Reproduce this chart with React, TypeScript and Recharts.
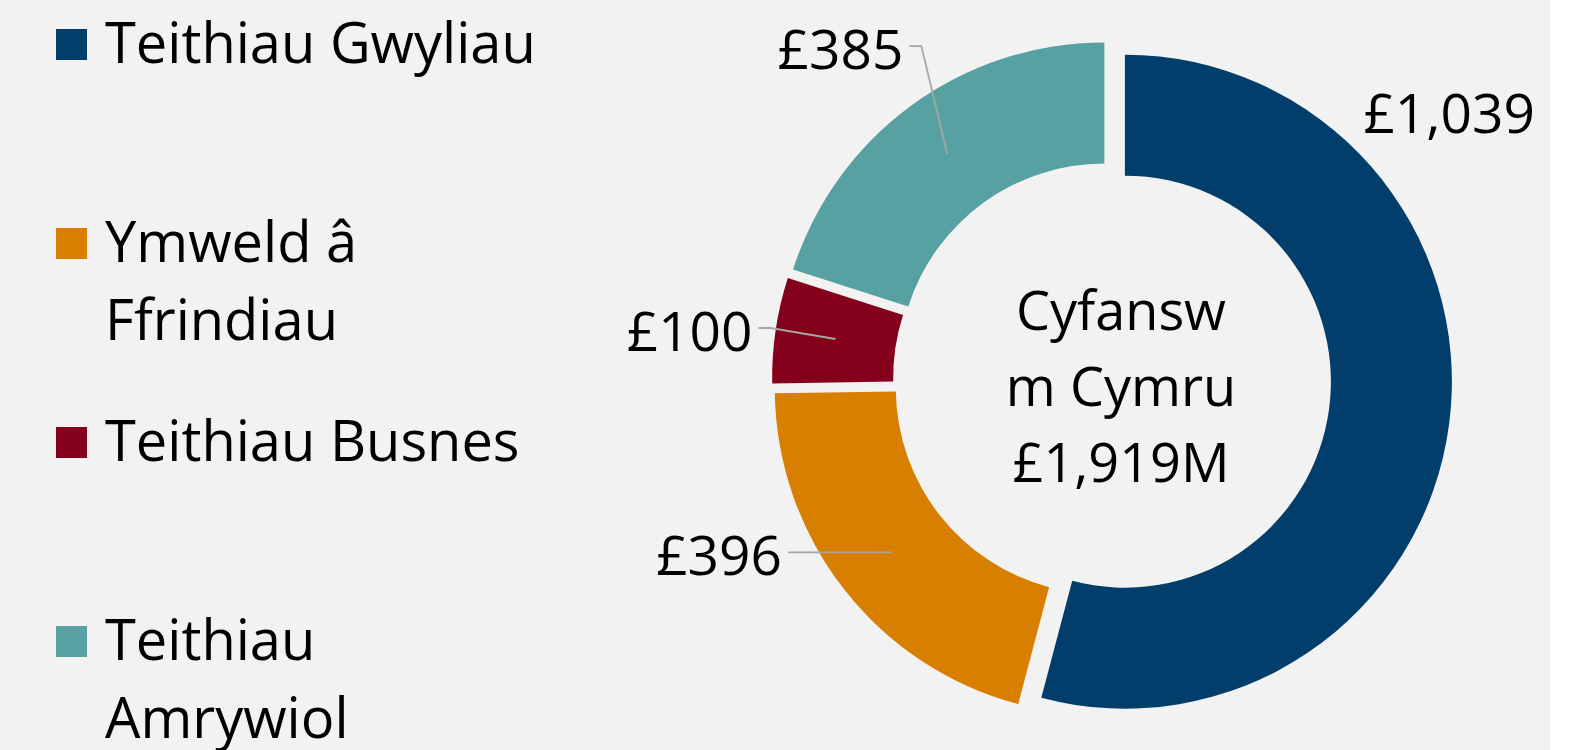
import React from 'react';
import { PieChart, Pie, Cell, Legend } from 'recharts';

// ---- data ----
const CATEGORIES = ['Teithiau Gwyliau', 'Ymweld â Ffrindiau', 'Teithiau Busnes', 'Teithiau Amrywiol'];
const VALUES = [1039, 396, 100, 385];
const COLORS = ['#023E6B', '#D87E00', '#84001B', '#57A1A3'];
const LEGEND_LINES = [['Teithiau Gwyliau'], ['Ymweld â', 'Ffrindiau'], ['Teithiau Busnes'], ['Teithiau', 'Amrywiol']];
const CENTER_LINES = ['Cyfansw', 'm Cymru', '£1,919M'];

const data = CATEGORIES.map((name, i) => ({ name, value: VALUES[i] }));

// ---- layout / style ----
const CX = 1112;
const CY = 380;
const INNER = 206;
const OUTER = 327;
const EXPLODE = 13;
const RADIAN = Math.PI / 180;
const LABEL_FONT = "'Open Sans', sans-serif";

const total = VALUES.reduce((a, b) => a + b, 0);
const MID_ANGLES = (() => {
  let cum = 0;
  return VALUES.map((v) => {
    const m = 90 - (360 * (cum + v / 2)) / total;
    cum += v;
    return m;
  });
})();

// elbow offset of the label relative to the mid-ring point of each slice
const LABEL_LAYOUT = [
  { dx: 60, dy: -283, line: false },
  { dx: -92, dy: 0, line: true },
  { dx: -65, dy: -11, line: true },
  { dx: -26, dy: -108, line: true },
];

const fmt = (v: number) => '£' + v.toLocaleString('en-GB');

const makeLabel = (slice: number) => (props: any) => {
  if (props.index !== slice) return null;
  const { cx, cy, midAngle, innerRadius, outerRadius, value } = props;
  const midR = (innerRadius + outerRadius) / 2;
  const px = cx + midR * Math.cos(-midAngle * RADIAN);
  const py = cy + midR * Math.sin(-midAngle * RADIAN);
  const lay = LABEL_LAYOUT[slice];
  const ex = px + lay.dx;
  const ey = py + lay.dy;
  return (
    <g>
      {lay.line ? (
        <>
          <polyline
            points={`${px},${py} ${ex},${ey} ${ex - 12},${ey}`}
            fill="none"
            stroke="#A6A6A6"
            strokeWidth={1.8}
          />
          <text x={ex - 18} y={ey + 23} textAnchor="end" fontFamily={LABEL_FONT} fontSize={55} fill="#000">
            {fmt(value)}
          </text>
        </>
      ) : (
        <text x={ex} y={ey} textAnchor="middle" fontFamily={LABEL_FONT} fontSize={55} fill="#000">
          {fmt(value)}
        </text>
      )}
      {slice === 0 &&
        CENTER_LINES.map((t, k) => (
          <text key={k} x={CX + 9} y={330 + k * 76} textAnchor="middle" fontFamily={LABEL_FONT} fontSize={54} fill="#000">
            {t}
          </text>
        ))}
    </g>
  );
};

const LegendBox = () => (
  <div style={{ position: 'relative', width: 700, height: 750, fontFamily: "'Open Sans', sans-serif", fontSize: 56, color: '#000' }}>
    {LEGEND_LINES.map((lines, i) => (
      <div key={i} style={{ position: 'absolute', left: 0, top: 2 + i * 199, width: 700 }}>
        <div style={{ position: 'absolute', left: 55.5, top: 26.5, width: 31, height: 31, background: COLORS[i] }} />
        <div style={{ position: 'absolute', left: 105, top: 0, lineHeight: '78px', whiteSpace: 'nowrap' }}>
          {lines.map((l, k) => (
            <div key={k}>{l}</div>
          ))}
        </div>
      </div>
    ))}
  </div>
);

export default function App() {
  return (
    <div style={{ position: 'absolute', left: 0, top: 0, width: 1588, height: 750, background: '#ffffff' }}>
      <div style={{ position: 'absolute', left: 0, top: 0, width: 1550, height: 750, background: '#F2F2F2' }}>
        <PieChart width={1550} height={750} margin={{ top: 0, right: 0, bottom: 0, left: 0 }}>
          {VALUES.map((_, s) => {
            const a = MID_ANGLES[s] * RADIAN;
            const cx = CX + EXPLODE * Math.cos(a);
            const cy = CY - EXPLODE * Math.sin(a);
            return (
              <Pie
                key={s}
                data={data}
                dataKey="value"
                nameKey="name"
                cx={cx}
                cy={cy}
                innerRadius={INNER}
                outerRadius={OUTER}
                startAngle={90}
                endAngle={-270}
                stroke="none"
                labelLine={false}
                label={makeLabel(s)}
                isAnimationActive={false}
              >
                {data.map((_, i) => (
                  <Cell key={i} fill={i === s ? COLORS[i] : 'none'} stroke="none" />
                ))}
              </Pie>
            );
          })}
          <Legend
            layout="vertical"
            align="center"
            verticalAlign="middle"
            wrapperStyle={{ position: 'absolute', left: 0, top: 0, width: 700, height: 750 }}
            content={() => <LegendBox />}
          />
        </PieChart>
      </div>
    </div>
  );
}
